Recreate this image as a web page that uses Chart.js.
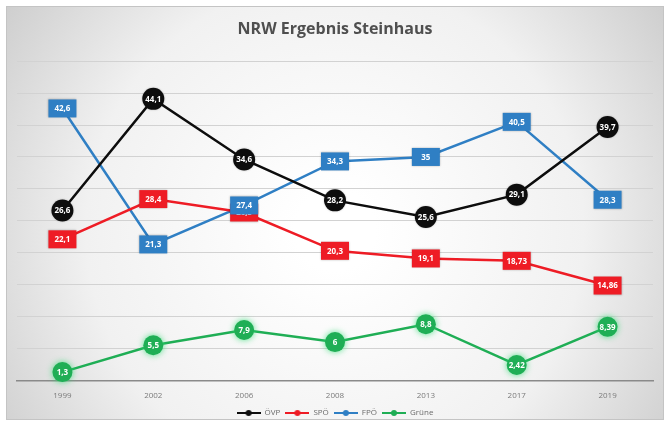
<!DOCTYPE html>
<html>
<head>
<meta charset="utf-8">
<script src="https://cdn.jsdelivr.net/npm/chart.js@4/dist/chart.umd.min.js"></script>
<style>
    html, body { margin: 0; padding: 0; background: #fff; }
    #wrap { width: 671px; height: 427px; }
</style>
</head>
<body>
<div id="wrap"><canvas id="nrwChart" width="671" height="427"></canvas></div>
<script>
const years = ['1999', '2002', '2006', '2008', '2013', '2017', '2019'];
const oevp = [26.6, 44.1, 34.6, 28.2, 25.6, 29.1, 39.7];
const spoe = [22.1, 28.4, 26.3, 20.3, 19.1, 18.73, 14.86];
const fpoe = [42.6, 21.3, 27.4, 34.3, 35, 40.5, 28.3];
const gruene = [1.3, 5.5, 7.9, 6, 8.8, 2.42, 8.39];

const Color = {
    Black: '#0d0d0d',
    Red: '#ee1c25',
    Blue: '#2f7fc4',
    Green: '#1fae55',
};

function fmt(val) {
    return String(val).replace('.', ',');
}

// little line-with-dot icon for the legend
function legendIcon(color) {
    const c = document.createElement('canvas');
    c.width = 24;
    c.height = 8;
    const g = c.getContext('2d');
    g.strokeStyle = color;
    g.lineWidth = 2;
    g.beginPath();
    g.moveTo(0, 4);
    g.lineTo(24, 4);
    g.stroke();
    g.fillStyle = color;
    g.beginPath();
    g.arc(12, 4, 3, 0, Math.PI * 2);
    g.fill();
    return c;
}

function getDataSetEntry(label, data, color, shape) {
    return {
        label,
        data,
        fill: false,
        tension: 0,
        borderColor: color,
        backgroundColor: color,
        borderWidth: 2.5,
        pointRadius: 0,
        pointHoverRadius: 0,
        pointStyle: legendIcon(color),
        labelShape: shape,
    };
}

const backgroundPlugin = {
    id: 'frameBg',
    beforeDraw(chart) {
        const ctx = chart.ctx;
        ctx.save();
        const grad = ctx.createRadialGradient(335, 230, 40, 335, 230, 420);
        grad.addColorStop(0, '#ffffff');
        grad.addColorStop(0.55, '#f1f1f1');
        grad.addColorStop(1, '#c9c9c9');
        ctx.fillStyle = grad;
        ctx.fillRect(6, 6, 658, 414);
        ctx.strokeStyle = '#c4c4c4';
        ctx.lineWidth = 1;
        ctx.strokeRect(6.5, 6.5, 657, 413);
        ctx.restore();
    },
};

const labelPlugin = {
    id: 'pointLabels',
    afterDatasetsDraw(chart) {
        const ctx = chart.ctx;
        ctx.save();
        ctx.font = 'bold 8px "Open Sans", sans-serif';
        ctx.textAlign = 'center';
        ctx.textBaseline = 'middle';
        chart.data.datasets.forEach((ds, i) => {
            const meta = chart.getDatasetMeta(i);
            meta.data.forEach((pt, j) => {
                const x = pt.x;
                const y = pt.y;
                ctx.fillStyle = ds.borderColor;
                ctx.shadowColor = ds.labelShape === 'glow' ? 'rgba(40,220,110,0.8)' : 'rgba(0,0,0,0.25)';
                ctx.shadowBlur = ds.labelShape === 'glow' ? 6 : 2;
                ctx.beginPath();
                if (ds.labelShape === 'box') {
                    ctx.rect(x - 14, y - 9, 28, 18);
                } else {
                    ctx.arc(x, y, ds.labelShape === 'glow' ? 10 : 11, 0, Math.PI * 2);
                }
                ctx.fill();
                ctx.shadowBlur = 0;
                ctx.fillStyle = '#ffffff';
                ctx.fillText(fmt(ds.data[j]), x, y + 0.5);
            });
        });
        ctx.restore();
    },
};

const chartConfig = {
    labels: years,
    datasets: [
        getDataSetEntry('ÖVP', oevp, Color.Black, 'circle'),
        getDataSetEntry('SPÖ', spoe, Color.Red, 'box'),
        getDataSetEntry('FPÖ', fpoe, Color.Blue, 'box'),
        getDataSetEntry('Grüne', gruene, Color.Green, 'glow'),
    ],
};

const ctx = document.getElementById('nrwChart').getContext('2d');
new Chart(ctx, {
    type: 'line',
    data: chartConfig,
    plugins: [backgroundPlugin, labelPlugin],
    options: {
        responsive: false,
        animation: false,
        layout: { padding: { left: 17, right: 18, top: 14, bottom: 0 } },
        plugins: {
            title: {
                display: true,
                text: 'NRW Ergebnis Steinhaus',
                color: '#4f4f4f',
                font: { family: '"Open Sans", sans-serif', size: 16, weight: 'bold' },
                padding: { top: 6, bottom: 22 },
            },
            legend: {
                position: 'bottom',
                labels: {
                    usePointStyle: true,
                    pointStyleWidth: 24,
                    color: '#6b6b6b',
                    font: { family: '"Open Sans", sans-serif', size: 8 },
                    boxWidth: 24,
                    padding: 5,
                },
            },
            tooltip: { enabled: false },
        },
        scales: {
            x: {
                offset: true,
                grid: { display: false },
                border: { color: '#8a8a8a', width: 1.5 },
                ticks: {
                    color: '#7a7a7a',
                    font: { family: '"Open Sans", sans-serif', size: 8 },
                    padding: 3,
                },
            },
            y: {
                min: 0,
                max: 50,
                ticks: { display: false, stepSize: 5 },
                border: { display: false },
                grid: { color: '#d2d2d2', drawTicks: false },
            },
        },
    },
});
</script>
</body>
</html>
